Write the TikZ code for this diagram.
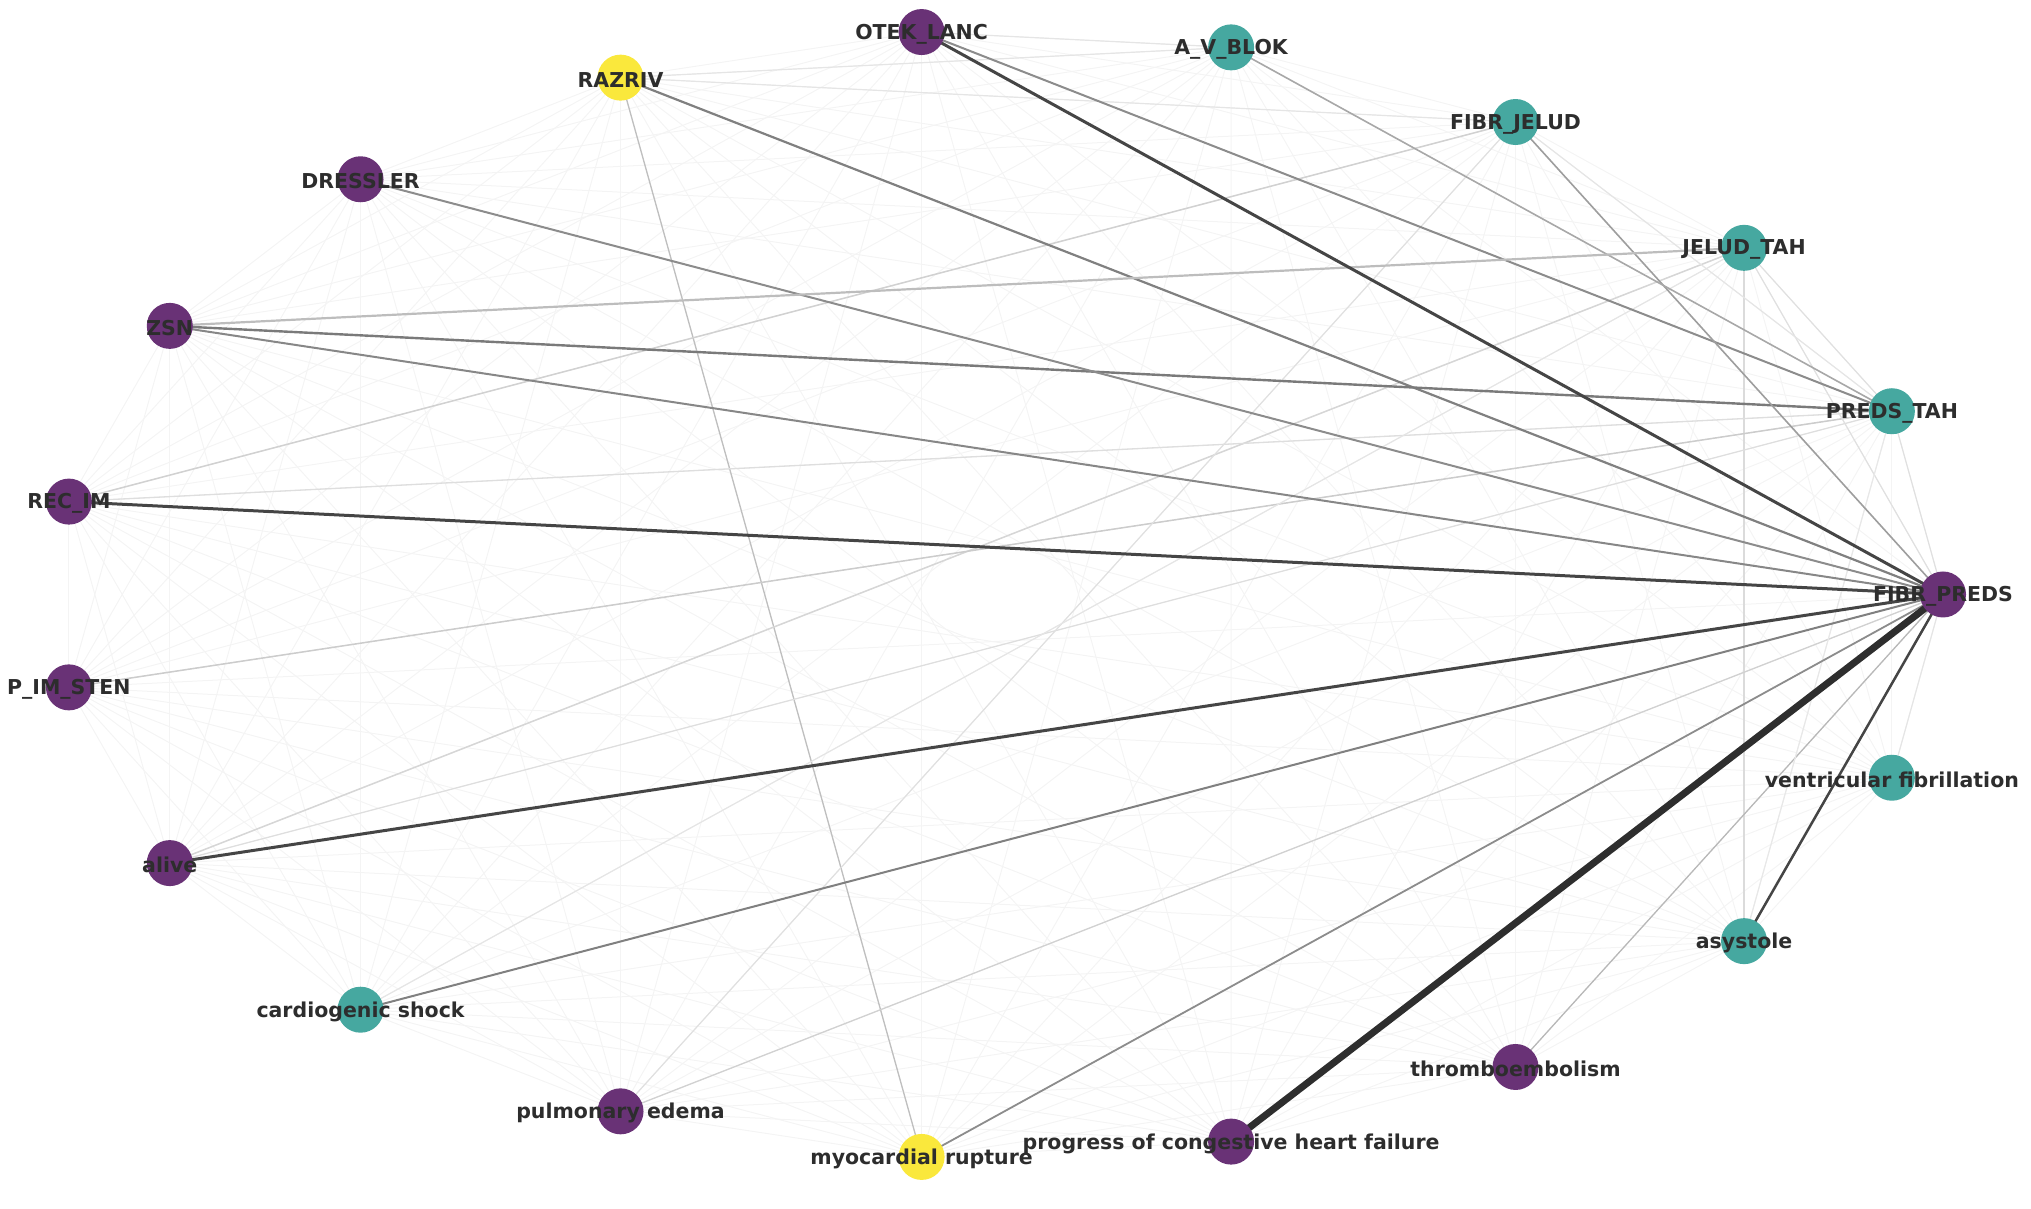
\documentclass[tikz,border=0pt]{standalone}
\usepackage{fontspec}
\setmainfont{DejaVu Sans}
\usetikzlibrary{backgrounds}
\definecolor{vpurple}{RGB}{105,50,118}
\definecolor{vteal}{RGB}{70,168,160}
\definecolor{vyellow}{RGB}{250,232,60}
\definecolor{lblcol}{RGB}{45,45,45}
\tikzset{
  vtx/.style={circle,minimum size=46pt,inner sep=0pt,draw=none},
  pnode/.style={vtx,fill=vpurple},
  tnode/.style={vtx,fill=vteal},
  ynode/.style={vtx,fill=vyellow},
  lbl/.style={text=lblcol,font=\fontsize{20.5}{24}\selectfont\bfseries,inner sep=0pt,yshift=-2pt},
  faint/.style={draw=black!4.5,line width=1pt},
  dark/.style={draw=black!73,line width=3pt},
  heavy/.style={draw=black!82,line width=7pt}
}
\begin{document}
\begin{tikzpicture}[x=1pt,y=1pt]
\useasboundingbox (0,0) rectangle (2031,1209);
\foreach \k in {0,...,18}
  \coordinate (p\k) at ({999.5+943.5*cos(\k*360/19)},{614.5+564.4*sin(\k*360/19)});
% nodes
\node[pnode] (n0) at (p0) {};
\node[tnode] (n1) at (p1) {};
\node[tnode] (n2) at (p2) {};
\node[tnode] (n3) at (p3) {};
\node[tnode] (n4) at (p4) {};
\node[pnode] (n5) at (p5) {};
\node[ynode] (n6) at (p6) {};
\node[pnode] (n7) at (p7) {};
\node[pnode] (n8) at (p8) {};
\node[pnode] (n9) at (p9) {};
\node[pnode] (n10) at (p10) {};
\node[pnode] (n11) at (p11) {};
\node[tnode] (n12) at (p12) {};
\node[pnode] (n13) at (p13) {};
\node[ynode] (n14) at (p14) {};
\node[pnode] (n15) at (p15) {};
\node[pnode] (n16) at (p16) {};
\node[tnode] (n17) at (p17) {};
\node[tnode] (n18) at (p18) {};
% edges
\begin{pgfonlayer}{background}
\foreach \i in {0,...,17}{
  \pgfmathtruncatemacro{\s}{\i+1}
  \foreach \j in {\s,...,18}{
    \draw[faint] (n\i.center) -- (n\j.center);
  }
}
% light edges
\foreach \a/\b/\c/\w in {6/14/25/1.3, 2/17/14/1.8, 16/0/28/1.3, 13/0/18/1.3, 2/11/16/1.5, 10/1/20/1.5,
  9/3/18/1.5, 9/1/13/1.3, 11/1/13/1.2, 18/0/10/1.2, 1/0/12/1.2, 2/0/12/1.2, 2/1/12/1.2,
  3/13/12/1.2, 5/4/10/1.2, 6/4/10/1.2, 6/3/10/1.2, 3/1/10/1.2, 12/2/10/1.2, 17/1/9/1.2}
  \draw[draw=black!\c,line width=\w pt] (n\a.center) -- (n\b.center);
% medium edges
\foreach \a/\b/\c/\w in {6/0/50/2.2, 8/1/52/2.4, 5/1/45/2, 7/0/45/2, 8/0/47/2, 12/0/50/2,
  14/0/45/1.8, 3/0/38/1.6, 4/1/34/1.6, 8/2/26/2.2}
  \draw[draw=black!\c,line width=\w pt] (n\a.center) -- (n\b.center);
% dark edges
\draw[dark] (n5.center) -- (n0.center);
\draw[dark] (n9.center) -- (n0.center);
\draw[dark] (n11.center) -- (n0.center);
\draw[dark,line width=2.5pt] (n17.center) -- (n0.center);
\draw[heavy] (n15.center) -- (n0.center);
\end{pgfonlayer}
% labels
\node[lbl] (l0) at (n0) {FIBR\_PREDS};
\node[lbl] (l1) at (n1) {PREDS\_TAH};
\node[lbl] (l2) at (n2) {JELUD\_TAH};
\node[lbl] (l3) at (n3) {FIBR\_JELUD};
\node[lbl] (l4) at (n4) {A\_V\_BLOK};
\node[lbl] (l5) at (n5) {OTEK\_LANC};
\node[lbl] (l6) at (n6) {RAZRIV};
\node[lbl] (l7) at (n7) {DRESSLER};
\node[lbl] (l8) at (n8) {ZSN};
\node[lbl] (l9) at (n9) {REC\_IM};
\node[lbl] (l10) at (n10) {P\_IM\_STEN};
\node[lbl] (l11) at (n11) {alive};
\node[lbl] (l12) at (n12) {cardiogenic shock};
\node[lbl] (l13) at (n13) {pulmonary edema};
\node[lbl] (l14) at (n14) {myocardial rupture};
\node[lbl] (l15) at (n15) {progress of congestive heart failure};
\node[lbl] (l16) at (n16) {thromboembolism};
\node[lbl] (l17) at (n17) {asystole};
\node[lbl] (l18) at (n18) {ventricular fibrillation};
\end{tikzpicture}
\end{document}
